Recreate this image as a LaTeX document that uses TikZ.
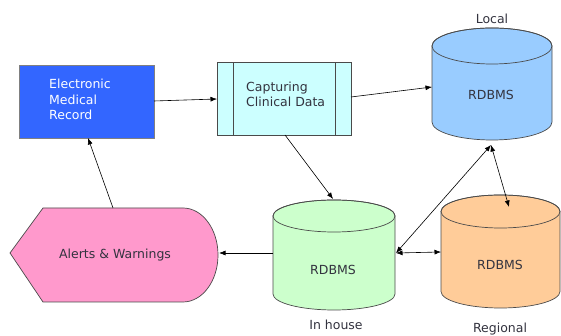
\documentclass[tikz,border=0pt]{standalone}
\usepackage{fontspec}
\setmainfont{DejaVu Sans}
\usetikzlibrary{arrows.meta}
\definecolor{emrblue}{HTML}{3366FF}
\definecolor{capcyan}{HTML}{CCFFFF}
\definecolor{localblue}{HTML}{99CCFF}
\definecolor{housegreen}{HTML}{CCFFCC}
\definecolor{regorange}{HTML}{FFCC99}
\definecolor{alertpink}{HTML}{FF99CC}
\definecolor{edge}{HTML}{4A4A4A}
\definecolor{txt}{HTML}{33333F}
\tikzset{
  lbl/.style={font=\fontsize{12.5}{15.5}\selectfont, text=txt, inner sep=0pt},
  boxline/.style={draw=edge, line width=0.7pt},
  cylline/.style={draw=edge, line width=0.7pt},
  conn/.style={draw=black, line width=0.6pt, -{Latex[length=6.5pt,width=5pt]}},
  dconn/.style={draw=black, line width=0.6pt, {Latex[length=6.5pt,width=5pt]}-{Latex[length=6.5pt,width=5pt]}},
}
% ry, cx, top centre Y, bottom centre Y, rx, fill
\newcommand{\dbcylinder}[6]{%
  \filldraw[cylline,fill=#6] ({#2-#5},#3) -- ({#2-#5},#4) arc[start angle=180,end angle=360,x radius=#5,y radius=#1] -- ({#2+#5},#3) arc[start angle=0,end angle=180,x radius=#5,y radius=#1] -- cycle;
  \draw[cylline] (#2,#3) ellipse[x radius=#5,y radius=#1];
}
\begin{document}
\begin{tikzpicture}[x=1pt,y=1pt]
\useasboundingbox (0,0) rectangle (561,336);
\fill[white] (0,0) rectangle (561,336);

% EMR box
\node[boxline, draw=gray, fill=emrblue, minimum width=135pt, minimum height=73pt, inner sep=0pt] (emr) at (86.5,234.5) {};
\node[lbl, text=white, anchor=west, align=left] (emrt) at (49,236.5) {Electronic\\Medical\\Record};

% Capturing box
\node[boxline, fill=capcyan, minimum width=134pt, minimum height=73pt, inner sep=0pt] (cap) at (284,237.5) {};
\draw[boxline] (233,201) -- (233,274);
\draw[boxline] (335,201) -- (335,274);
\node[lbl, anchor=west, align=left] (capt) at (246,241.5) {Capturing\\Clinical Data};

% Cylinders
\dbcylinder{18}{492}{290}{214}{60}{localblue}
\node[lbl] (localt) at (491,241) {RDBMS};
\node[lbl] (locall) at (492,317) {Local};

\dbcylinder{16}{334}{120}{42}{61}{housegreen}
\node[lbl] (houset) at (333,66) {RDBMS};
\node[lbl] (housel) at (336,11) {In house};

\dbcylinder{16.5}{500.5}{124.5}{44.5}{59.5}{regorange}
\node[lbl] (regt) at (500,71) {RDBMS};
\node[lbl] (regl) at (500,7) {Regional};

% Alerts shape
\filldraw[boxline, fill=alertpink] (10,83) -- (43,128) -- (183,128) arc[start angle=90,end angle=-90,x radius=35,y radius=47] -- (43,34) -- cycle;
\node[lbl] (alerts) at (115,81) {Alerts \& Warnings};

% connector end points
\coordinate (emrE) at (154,235);
\coordinate (capW) at (217,237);
\coordinate (capE) at (351,239);
\coordinate (locW) at (432,249);
\coordinate (capS) at (285,201);
\coordinate (houseN) at (333,137);
\coordinate (houseW) at (273,83);
\coordinate (alertE) at (219,83);
\coordinate (alertN) at (113,128);
\coordinate (emrS) at (88,198);
\coordinate (houseE) at (396,83);
\coordinate (locS) at (491,191);
\coordinate (regW) at (441,84);
\coordinate (regN) at (509,129);

\draw[conn] (emrE) -- (capW);
\draw[conn] (capE) -- (locW);
\draw[conn] (capS) -- (houseN);
\draw[conn] (houseW) -- (alertE);
\draw[conn] (alertN) -- (emrS);
\draw[dconn] (houseE) -- (locS);
\draw[dconn] (houseE) -- (regW);
\draw[dconn] (locS) -- (regN);
\end{tikzpicture}
\end{document}
